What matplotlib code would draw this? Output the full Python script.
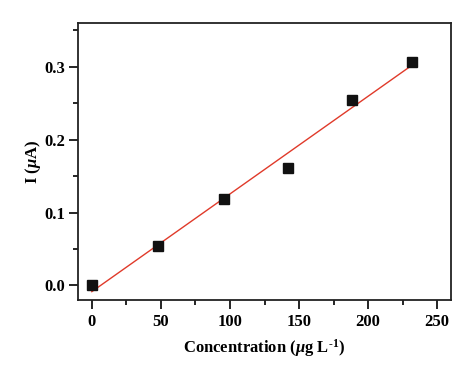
import numpy as np
import matplotlib
matplotlib.use("Agg")
import matplotlib.pyplot as plt
from matplotlib.ticker import MultipleLocator

# data
conc = [0, 48, 96, 142, 188, 232]
current = [0.0, 0.054, 0.118, 0.161, 0.255, 0.307]

plt.rcParams['font.family'] = ['Liberation Serif', 'DejaVu Serif']
plt.rcParams['mathtext.fontset'] = 'custom'
plt.rcParams['mathtext.it'] = 'Liberation Serif:italic:bold'
plt.rcParams['mathtext.rm'] = 'Liberation Serif:bold'
plt.rcParams['mathtext.bf'] = 'Liberation Serif:bold'

fig = plt.figure(figsize=(4.74, 3.77), dpi=100)
ax = fig.add_axes([78/474, 1-300/377, (451-78)/474, (300-23)/377])

# linear fit
slope, intercept = np.polyfit(conc, current, 1)
xfit = np.array([conc[0], conc[-1]])
ax.plot(xfit, slope*xfit + intercept, color='#e03a2a', lw=1.0, zorder=2)
ax.plot(conc, current, 's', color='#111111', ms=7, zorder=3)

ax.set_xlim(-10, 260)
ax.set_ylim(-0.02, 0.36)
ax.xaxis.set_major_locator(MultipleLocator(50))
ax.xaxis.set_minor_locator(MultipleLocator(25))
ax.yaxis.set_major_locator(MultipleLocator(0.1))
ax.yaxis.set_minor_locator(MultipleLocator(0.05))
ax.yaxis.set_major_formatter(matplotlib.ticker.FormatStrFormatter('%.1f'))

ax.tick_params(which='major', direction='out', length=6.5, width=1.2, labelsize=12)
ax.tick_params(which='minor', direction='out', length=3.5, width=1.2)
ax.tick_params(top=False, right=False)
ax.tick_params(axis='y', pad=3)
for s in ax.spines.values():
    s.set_linewidth(1.3)
    s.set_color('#222222')
for lab in ax.get_xticklabels() + ax.get_yticklabels():
    lab.set_fontweight('bold')

ax.set_xlabel('Concentration ($\\mu$g L$^{\u2010 1}$)', fontsize=12, fontweight='bold', labelpad=5)
ax.set_ylabel(r'I ($\mu$A)', fontsize=12, fontweight='bold', labelpad=1)

fig.savefig('out.png', dpi=100)
